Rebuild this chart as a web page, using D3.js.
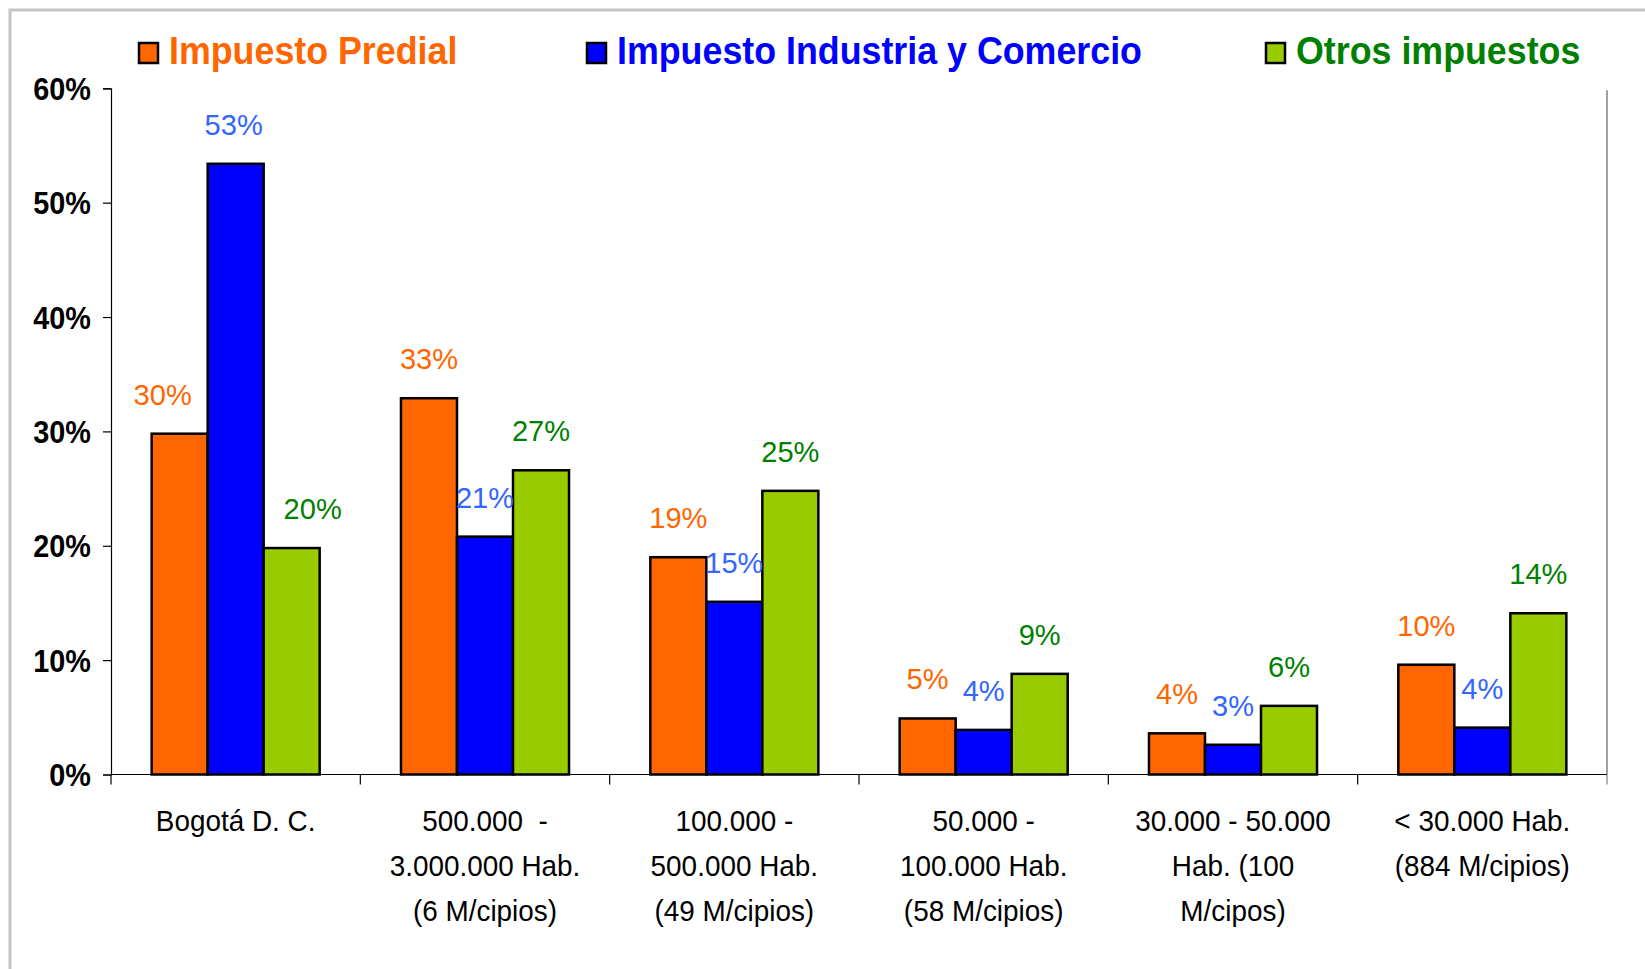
<!DOCTYPE html>
<html>
<head>
<meta charset="utf-8">
<script src="https://cdn.jsdelivr.net/npm/d3@7"></script>
<style>
  body { margin: 0; background: #fff; }
  text { font-family: "Liberation Sans", Arial, sans-serif; }
</style>
</head>
<body>
<script>
// data (percent)
var categories = [
  ["Bogotá D. C."],
  ["500.000  -", "3.000.000 Hab.", "(6 M/cipios)"],
  ["100.000 -", "500.000 Hab.", "(49 M/cipios)"],
  ["50.000 -", "100.000 Hab.", "(58 M/cipios)"],
  ["30.000 - 50.000", "Hab. (100", "M/cipos)"],
  ["< 30.000 Hab.", "(884 M/cipios)"]
];
var seriesNames = ["Impuesto Predial", "Impuesto Industria y Comercio", "Otros impuestos"];
var predial = [29.8, 32.9, 19.0, 4.9, 3.6, 9.6];
var industria = [53.4, 20.8, 15.1, 3.9, 2.6, 4.1];
var otros = [19.8, 26.6, 24.8, 8.8, 6.0, 14.1];
var yTicks = [0, 10, 20, 30, 40, 50, 60];

var w = 1645;
var h = 969;

var barFill = ["#FF6600", "#0000FF", "#99CC00"];
var legendText = ["#FF6600", "#0000FF", "#008000"];
var labelColor = ["#FF6600", "#3366FF", "#008000"];
var sx = 0.93; // the original text looks a bit squeezed

var svg = d3.select("body")
  .append("svg")
  .attr("width", w)
  .attr("height", h);

// outer frame (only top and left edges visible)
svg.append("rect")
  .attr("x", 10).attr("y", 10)
  .attr("width", w).attr("height", h)
  .attr("fill", "none")
  .attr("stroke", "#c4c4c4")
  .attr("stroke-width", 3);

var plotL = 111, plotR = 1607, plotT = 88.3, plotB = 774.5;

var x = d3.scaleBand()
  .domain(d3.range(categories.length))
  .range([plotL, plotR]);

var groupPad = 40.65;
var xs = d3.scaleBand()
  .domain([0, 1, 2])
  .range([groupPad, x.bandwidth() - groupPad]);

var y = d3.scaleLinear()
  .domain([0, 60])
  .range([plotB, plotT]);

// right edge of plot area
svg.append("line")
  .attr("x1", plotR).attr("x2", plotR)
  .attr("y1", plotT + 2).attr("y2", plotB)
  .attr("stroke", "#808080")
  .attr("stroke-width", 1.5);

var rows = [];
[predial, industria, otros].forEach(function(s, k) {
  s.forEach(function(v, i) { rows.push({ i: i, k: k, v: v }); });
});

svg.selectAll("rect.bar")
  .data(rows)
  .enter()
  .append("rect")
  .attr("class", "bar")
  .attr("x", function(d) { return x(d.i) + xs(d.k); })
  .attr("y", function(d) { return y(d.v); })
  .attr("width", xs.bandwidth())
  .attr("height", function(d) { return plotB - y(d.v); })
  .attr("fill", function(d) { return barFill[d.k]; })
  .attr("stroke", "#000")
  .attr("stroke-width", 2.5);

// Bogotá labels were nudged sideways in the original
var nudge = function(d) {
  if (d.i != 0) return 0;
  return d.k == 0 ? -17 : (d.k == 2 ? 21 : -2);
};

svg.selectAll("text.val")
  .data(rows)
  .enter()
  .append("text")
  .attr("class", "val")
  .attr("transform", function(d) {
    var cx = x(d.i) + xs(d.k) + xs.bandwidth() / 2 + nudge(d);
    return "translate(" + cx + "," + (y(d.v) - 29) + ") scale(0.97,1)";
  })
  .attr("text-anchor", "middle")
  .attr("font-size", "30px")
  .attr("fill", function(d) { return labelColor[d.k]; })
  .text(function(d) { return Math.round(d.v) + "%"; });

// y axis
var yAxis = d3.axisLeft(y)
  .tickValues(yTicks)
  .tickSize(8)
  .tickFormat(function(d) { return d + "%"; });

var gy = svg.append("g")
  .attr("transform", "translate(" + plotL + ",0)")
  .call(yAxis);
gy.select(".domain").attr("stroke", "#000").attr("stroke-width", 1.2);
gy.selectAll(".tick line").attr("stroke", "#000").attr("stroke-width", 1.2);
gy.selectAll(".tick text")
  .attr("x", 0)
  .attr("dy", "0.36em")
  .attr("transform", "translate(-20,0) scale(" + sx + ",1)")
  .attr("font-family", "Liberation Sans, Arial, sans-serif")
  .attr("font-size", "31px")
  .attr("font-weight", "bold")
  .attr("fill", "#000");

// x axis baseline with ticks between categories
svg.append("line")
  .attr("x1", plotL).attr("x2", plotR)
  .attr("y1", plotB).attr("y2", plotB)
  .attr("stroke", "#000")
  .attr("stroke-width", 1.2);

svg.selectAll("line.xtick")
  .data(d3.range(categories.length + 1))
  .enter()
  .append("line")
  .attr("class", "xtick")
  .attr("x1", function(d) { return plotL + d * x.bandwidth(); })
  .attr("x2", function(d) { return plotL + d * x.bandwidth(); })
  .attr("y1", plotB).attr("y2", plotB + 10)
  .attr("stroke", function(d) { return d == categories.length ? "#808080" : "#000"; })
  .attr("stroke-width", 1.2);

var catG = svg.selectAll("g.cat")
  .data(categories)
  .enter()
  .append("g")
  .attr("class", "cat")
  .attr("transform", function(d, i) {
    return "translate(" + (x(i) + x.bandwidth() / 2) + ",831) scale(" + sx + ",1)";
  });

catG.selectAll("text")
  .data(function(d) { return d; })
  .enter()
  .append("text")
  .attr("y", function(d, j) { return j * 45; })
  .attr("text-anchor", "middle")
  .attr("font-size", "30px")
  .attr("fill", "#000")
  .style("white-space", "pre")
  .text(function(d) { return d; });

// legend
var legendX = [138, 586, 1265];
var leg = svg.selectAll("g.leg")
  .data(seriesNames)
  .enter()
  .append("g")
  .attr("class", "leg")
  .attr("transform", function(d, i) { return "translate(" + legendX[i] + ",0)"; });

leg.append("rect")
  .attr("x", 1).attr("y", 43)
  .attr("width", 19).attr("height", 20)
  .attr("fill", function(d, i) { return barFill[i]; })
  .attr("stroke", "#000")
  .attr("stroke-width", 2.5);

leg.append("text")
  .attr("transform", "translate(31,64) scale(" + sx + ",1)")
  .attr("font-size", "38.5px")
  .attr("font-weight", "bold")
  .attr("fill", function(d, i) { return legendText[i]; })
  .text(function(d) { return d; });
</script>
</body>
</html>
